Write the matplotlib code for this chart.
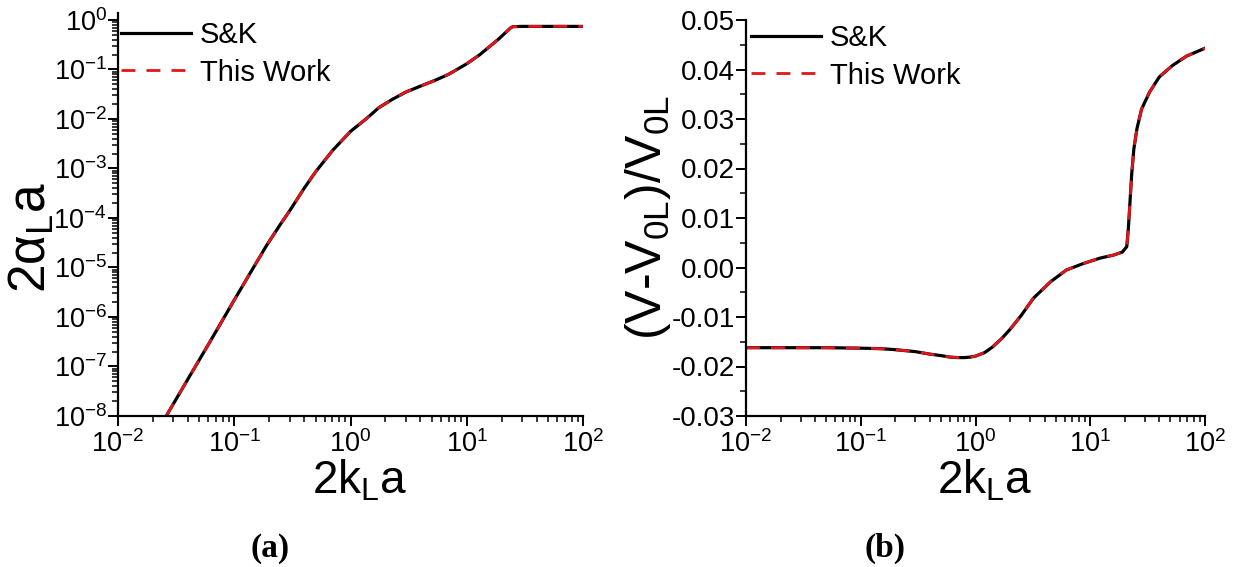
import matplotlib
matplotlib.use('Agg')
import matplotlib.pyplot as plt
from matplotlib.ticker import LogLocator, MultipleLocator, NullFormatter

plt.rcParams['font.family'] = ['Liberation Sans', 'DejaVu Sans']
plt.rcParams['mathtext.fontset'] = 'custom'
plt.rcParams['mathtext.rm'] = 'Liberation Sans'
plt.rcParams['mathtext.it'] = 'Liberation Sans:italic'
plt.rcParams['mathtext.default'] = 'regular'

# ---------------- data ----------------
# panel (a): 2*alpha_L*a versus 2*k_L*a
ka_a = [0.026, 0.04, 0.06, 0.1, 0.15, 0.19, 0.25, 0.3, 0.4, 0.5, 0.7, 1.0,
        1.36, 1.76, 2.3, 3.0, 4.0, 5.5, 7.0, 10, 13, 16, 19, 22, 24, 25,
        30, 50, 100]
alpha_sk = [1e-8, 5.6e-8, 2.8e-7, 2.2e-6, 1.1e-5, 2.8e-5, 7.5e-5, 1.4e-4,
            4.0e-4, 8.5e-4, 2.3e-3, 5.6e-3, 1.0e-2, 1.7e-2, 2.5e-2, 3.5e-2,
            4.6e-2, 6.2e-2, 8.0e-2, 0.13, 0.2, 0.3, 0.42, 0.58, 0.7, 0.73,
            0.74, 0.74, 0.74]
alpha_tw = list(alpha_sk)

# panel (b): (V - V0L)/V0L versus 2*k_L*a
ka_b = [0.01, 0.02, 0.05, 0.1, 0.15, 0.2, 0.3, 0.4, 0.5, 0.6, 0.7, 0.8, 0.9,
        1.0, 1.2, 1.4, 1.7, 2.0, 2.5, 3.2, 4.5, 6.2, 8.7, 12.2, 15.9, 19,
        20.8, 21.5, 22.3, 23, 24, 25.5, 28, 33, 40, 52, 69, 100]
dv_sk = [-0.0162, -0.0162, -0.0162, -0.0163, -0.0164, -0.0166, -0.0170,
         -0.0175, -0.0178, -0.0181, -0.0182, -0.0182, -0.0181, -0.0179,
         -0.0172, -0.0161, -0.0143, -0.0125, -0.0097, -0.0062, -0.0029,
         -0.0005, 0.0008, 0.0019, 0.0025, 0.0031, 0.0042, 0.0080, 0.0140,
         0.0190, 0.0240, 0.0280, 0.0320, 0.0355, 0.0385, 0.0408, 0.0427,
         0.0443]
dv_tw = list(dv_sk)

series_labels = ['S&K', 'This Work']
xticks = [1e-2, 1e-1, 1e0, 1e1, 1e2]
xticklabels = ['$10^{-2}$', '$10^{-1}$', '$10^{0}$', '$10^{1}$', '$10^{2}$']
yticks_a = [10.0 ** e for e in range(-8, 1)]
yticklabels_a = ['$10^{%d}$' % e for e in range(-8, 1)]
yticks_b = [-0.03, -0.02, -0.01, 0.00, 0.01, 0.02, 0.03, 0.04, 0.05]
yticklabels_b = ['%.2f' % v for v in yticks_b]

# ---------------- figure ----------------
W, H = 1239, 567
fig = plt.figure(figsize=(W / 100, H / 100), dpi=100)

def frac(x0, y0, x1, y1):
    return [x0 / W, 1 - y1 / H, (x1 - x0) / W, (y1 - y0) / H]

axA = fig.add_axes(frac(118, 13, 583, 416))
axB = fig.add_axes(frac(746, 20, 1205, 416))

LOG_FS = 19.5
LIN_FS = 20
LEG_FS = 21
RED = '#e0161c'
DASH = (5, 4)

def style(ax):
    for s in ['top', 'right']:
        ax.spines[s].set_visible(False)
    for s in ['left', 'bottom']:
        ax.spines[s].set_linewidth(1.6)
    ax.tick_params(which='major', direction='out', length=7, width=1.4)
    ax.tick_params(axis='y', which='major', pad=1)
    ax.tick_params(axis='x', which='major', pad=3, labelsize=LOG_FS)
    ax.tick_params(which='minor', direction='out', length=4, width=1.1)

for ax in (axA, axB):
    ax.set_xscale('log')
    ax.set_xlim(1e-2, 1e2)
    ax.set_xticks(xticks)
    ax.set_xticklabels(xticklabels)
    ax.xaxis.set_minor_locator(LogLocator(base=10, subs=range(2, 10), numticks=20))
    ax.xaxis.set_minor_formatter(NullFormatter())
    style(ax)

# panel a
axA.set_yscale('log')
axA.set_ylim(1e-8, 1.38)
axA.set_yticks(yticks_a)
axA.set_yticklabels(yticklabels_a)
axA.tick_params(axis='y', labelsize=LOG_FS)
axA.yaxis.set_minor_locator(LogLocator(base=10, subs=range(2, 10), numticks=20))
axA.yaxis.set_minor_formatter(NullFormatter())
axA.plot(ka_a, alpha_sk, color='black', lw=2.3, label=series_labels[0])
axA.plot(ka_a, alpha_tw, color=RED, lw=2.0, dashes=DASH, label=series_labels[1])
axA.set_xlabel('2k$_{\\rm L}$a', fontsize=33)
axA.set_ylabel('2$\\alpha_{\\rm L}$a', fontsize=37)
axA.xaxis.set_label_coords((360 - 118) / 465, (416 - 458) / 403)
axA.yaxis.set_label_coords((57 - 118) / 465, (416 - 238) / 403)

# panel b
axB.set_ylim(-0.03, 0.05)
axB.set_yticks(yticks_b)
axB.set_yticklabels(yticklabels_b)
axB.tick_params(axis='y', labelsize=LIN_FS)
axB.yaxis.set_minor_locator(MultipleLocator(0.005))
axB.plot(ka_b, dv_sk, color='black', lw=2.3, label=series_labels[0])
axB.plot(ka_b, dv_tw, color=RED, lw=2.0, dashes=DASH, label=series_labels[1])
axB.set_xlabel('2k$_{\\rm L}$a', fontsize=33)
axB.set_ylabel('(V-V$_{\\rm 0L}$)/V$_{\\rm 0L}$', fontsize=36)
axB.xaxis.set_label_coords((985 - 746) / 459, (416 - 458) / 396)
axB.yaxis.set_label_coords((673 - 746) / 459, (416 - 218) / 396)

for ax, (lx, ly) in ((axA, (121, 21)), (axB, (751, 24))):
    ax.legend(loc='upper left', bbox_to_anchor=(lx / W, 1 - ly / H),
              bbox_transform=fig.transFigure, frameon=False,
              fontsize=LEG_FS, handlelength=2.4, handletextpad=0.3,
              labelspacing=0.33, borderaxespad=0.0, borderpad=0.0)

fig.text(270 / W, 1 - 548 / H, '(a)', fontsize=24, fontweight='bold',
         family='Liberation Serif', ha='center', va='center')
fig.text(885 / W, 1 - 548 / H, '(b)', fontsize=24, fontweight='bold',
         family='Liberation Serif', ha='center', va='center')

fig.savefig('out.png', dpi=100)
